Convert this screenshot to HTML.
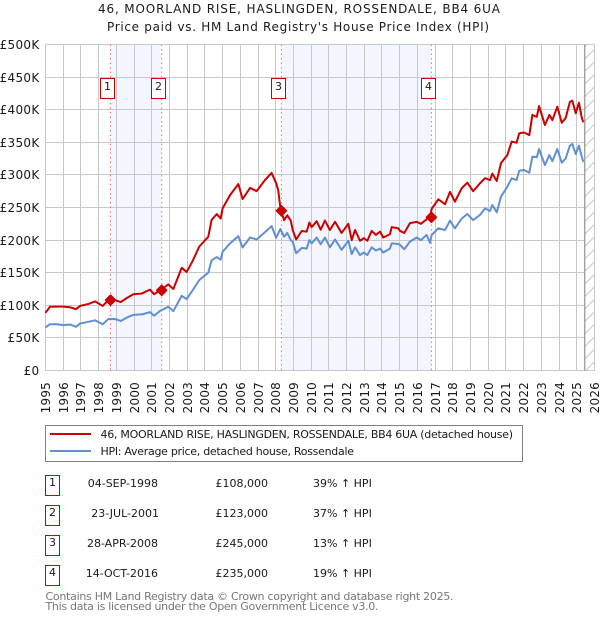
<!DOCTYPE html>
<html lang="en">
<head>
<meta charset="utf-8">
<title>46, Moorland Rise price chart</title>
<style>
html,body{margin:0;padding:0;background:#fff;width:600px;height:620px;overflow:hidden}
svg{display:block}
text{font-family:"DejaVu Sans","Liberation Sans",sans-serif;fill:#1a1a1a}
</style>
</head>
<body>
<svg id="chart" xmlns="http://www.w3.org/2000/svg" width="600" height="620" viewBox="0 0 600 620">
  <rect x="0" y="0" width="600" height="620" fill="#ffffff"/>
  <text x="299" y="13" font-size="12" text-anchor="middle" textLength="402" lengthAdjust="spacing">46, MOORLAND RISE, HASLINGDEN, ROSSENDALE, BB4 6UA</text>
  <text x="298" y="31" font-size="12" text-anchor="middle" textLength="382" lengthAdjust="spacing">Price paid vs. HM Land Registry's House Price Index (HPI)</text>
  <g id="bands"></g>
  <g id="grid"></g>
  <g id="hatch"></g>
  <g id="guides"></g>
  <g id="ylabels"></g>
  <g id="xlabels"></g>
  <g id="series"></g>
  <g id="markers"></g>
  <g id="flags"></g>

  <g>
    <rect x="45.5" y="425.5" width="477" height="36" fill="#ffffff" stroke="#808080" stroke-width="1"/>
    <line x1="50" x2="91" y1="434" y2="434" stroke="#cc0000" stroke-width="2"/>
    <text x="100.5" y="438" font-size="11" textLength="412.5" lengthAdjust="spacing">46, MOORLAND RISE, HASLINGDEN, ROSSENDALE, BB4 6UA (detached house)</text>
    <line x1="50" x2="91" y1="451" y2="451" stroke="#6090d0" stroke-width="2"/>
    <text x="100.5" y="455" font-size="11" textLength="253.5" lengthAdjust="spacing">HPI: Average price, detached house, Rossendale</text>
  </g>

  <g>
    <g>
      <rect x="45.5" y="475.5" width="14" height="20" fill="#fff" stroke="#cc0000"/>
      <text x="52.5" y="486" font-size="11" text-anchor="middle">1</text>
      <text x="158" y="487" font-size="11" text-anchor="end">04-SEP-1998</text>
      <text x="215.5" y="487" font-size="11">£108,000</text>
      <text x="313" y="487" font-size="11">39% ↑ HPI</text>
    </g>
    <g>
      <rect x="45.5" y="505.5" width="14" height="20" fill="#fff" stroke="#cc0000"/>
      <text x="52.5" y="516" font-size="11" text-anchor="middle">2</text>
      <text x="159" y="517" font-size="11" text-anchor="end">23-JUL-2001</text>
      <text x="215.5" y="517" font-size="11">£123,000</text>
      <text x="313" y="517" font-size="11">37% ↑ HPI</text>
    </g>
    <g>
      <rect x="45.5" y="535.5" width="14" height="20" fill="#fff" stroke="#cc0000"/>
      <text x="52.5" y="546" font-size="11" text-anchor="middle">3</text>
      <text x="158" y="547" font-size="11" text-anchor="end">28-APR-2008</text>
      <text x="215.5" y="547" font-size="11">£245,000</text>
      <text x="313" y="547" font-size="11">13% ↑ HPI</text>
    </g>
    <g>
      <rect x="45.5" y="565.5" width="14" height="20" fill="#fff" stroke="#cc0000"/>
      <text x="52.5" y="576" font-size="11" text-anchor="middle">4</text>
      <text x="158" y="577" font-size="11" text-anchor="end">14-OCT-2016</text>
      <text x="215.5" y="577" font-size="11">£235,000</text>
      <text x="313" y="577" font-size="11">19% ↑ HPI</text>
    </g>
  </g>

  <text x="45.5" y="600" font-size="11" textLength="408" lengthAdjust="spacing" style="fill:#777777">Contains HM Land Registry data © Crown copyright and database right 2025.</text>
  <text x="45.5" y="610" font-size="11" textLength="333" lengthAdjust="spacing" style="fill:#777777">This data is licensed under the Open Government Licence v3.0.</text>
</svg>
<script>
const yearTicks = [1995,1996,1997,1998,1999,2000,2001,2002,2003,2004,2005,2006,2007,2008,2009,2010,2011,2012,2013,2014,2015,2016,2017,2018,2019,2020,2021,2022,2023,2024,2025,2026];
const valueTicks = [0,50,100,150,200,250,300,350,400,450,500];
const valueTickLabels = ['£0','£50K','£100K','£150K','£200K','£250K','£300K','£350K','£400K','£450K','£500K'];

const dates = [
1995.00,1995.25,1995.63,1996.00,1996.38,1996.72,1996.95,1997.42,1997.80,1998.23,
1998.55,1998.92,1999.25,1999.58,1999.96,2000.43,2000.90,2001.13,2001.48,2001.93,
2002.22,2002.69,2002.97,2003.31,2003.68,2004.19,2004.38,2004.67,2004.89,2005.00,
2005.42,2005.89,2006.13,2006.55,2006.92,2007.39,2007.77,2008.02,2008.14,2008.26,
2008.47,2008.65,2008.85,2008.96,2009.15,2009.47,2009.75,2009.90,2010.03,2010.31,
2010.54,2010.78,2011.06,2011.35,2011.72,2012.10,2012.29,2012.48,2012.76,2012.98,
2013.17,2013.42,2013.66,2013.89,2014.07,2014.45,2014.55,2014.92,2015.02,2015.26,
2015.58,2015.96,2016.20,2016.52,2016.71,2016.81,2017.18,2017.56,2017.84,2018.12,
2018.50,2018.82,2019.15,2019.53,2019.82,2020.10,2020.23,2020.48,2020.72,2021.08,
2021.32,2021.60,2021.75,2022.02,2022.32,2022.49,2022.74,2022.87,2023.20,2023.45,
2023.62,2023.90,2024.15,2024.37,2024.61,2024.75,2024.94,2025.12,2025.28,2025.37];

const priceSeries = [
88.5,97.7,98,98,97,94,99,102,106,99,
108,108,105,111,117,118,124,117,123,132,
125,157.5,151,168,190,205,231,240,233,248.6,
269,286,263,280,275,292,303,287.5,276.7,250,
230.6,238,230,215.5,201,214,213,227,220,229,
216,230,215.5,228,211,225,200,215.5,199,203,
199,214,208,213,204,209,220,218,214,211,
226,228,225,232,236,248,262.5,255,274,259,
279.5,288,275,287,295,292,302,290.6,318,330.5,
351,349.4,363.8,365,361,392,389,405.6,376.5,392,
384,404.6,380,387,412,413.8,394.5,410.7,388,380.6];

const hpiSeries = [
66,71,71,69.6,70.6,67,72,74.7,77,71,
79,79,76,81,85.4,86,89.5,84,91.6,97.7,
91,114.6,109.5,123,138.6,150,169,174,170,182,
195,206,188.7,204,201,212,221.5,203.6,210,217,
205,211,200,197.6,179.8,188,187,200,195,204,
193.6,204,189,201,185,199,178.6,189,177,181,
177,189,184,187,181,187,195,194,192.5,186,
197.6,204,200,208,196,208,218,215.5,229.8,218,
233,240,230.8,238.5,248.7,244.6,253.8,242.6,266.6,282,
294.8,292,306.4,307.5,303.4,328,327,339.7,315,330.5,
321,339.7,318.7,325,344.8,347.4,332,344.8,328,320];

const saleNumbers = ['1','2','3','4'];
const saleDates = [1998.67,2001.56,2008.32,2016.79];
const salePrices = [108,123,245,235];
const dataEnd = 2025.45;

const SVGNS = 'http://www.w3.org/2000/svg';
const PL = 45.5, PR = 594.5, PT = 44.5, PB = 370.5;
function xAxis(year){ return PL + (year - 1995) * (PR - PL) / 31; }
function yAxis(val){ return PB - val * (PB - PT) / 500; }
function make(tag, parent, attrs){
  const el = document.createElementNS(SVGNS, tag);
  for (const k in attrs) el.setAttribute(k, attrs[k]);
  document.getElementById(parent).appendChild(el);
  return el;
}
function snap(v){ return Math.round(v - 0.5) + 0.5; }

/* shaded bands between sale pairs */
for (let i = 0; i + 1 < saleDates.length; i += 2) {
  const band = make('rect', 'bands', {x: xAxis(saleDates[i]), y: PT, width: xAxis(saleDates[i+1]) - xAxis(saleDates[i]), height: PB - PT, fill: '#f3f6fe'});
  
  
}

/* grid and tick labels */
yearTicks.forEach(function(year){
  const gx = snap(xAxis(year));
  const line = make('line', 'grid', {x1: gx, x2: gx, y1: PT, y2: PB, stroke: '#c8c8c8', 'stroke-width': 1});
  
  
  const lab = make('text', 'xlabels', {'font-size': 12, 'text-anchor': 'end', 'letter-spacing': '0.2', transform: 'translate(' + (gx + 4.5) + ',382) rotate(-90)'});
  lab.textContent = String(year);
  
  
});
valueTicks.forEach(function(val, i){
  const gy = snap(yAxis(val));
  const line = make('line', 'grid', {x1: PL, x2: PR, y1: gy, y2: gy, stroke: '#c8c8c8', 'stroke-width': 1});
  
  
  const lab = make('text', 'ylabels', {x: 39.5, y: gy + 4.5, 'font-size': 12, 'text-anchor': 'end', 'letter-spacing': '0.3'});
  lab.textContent = valueTickLabels[i];
  
  
});

/* future hatch beyond last data point */
const endX = xAxis(dataEnd);
const hatchClip = make('clipPath', 'hatch', {id: 'hatch-clip'});
const hatchRect = document.createElementNS(SVGNS, 'rect');
hatchRect.setAttribute('x', endX);
hatchRect.setAttribute('y', PT);
hatchRect.setAttribute('width', PR - endX);
hatchRect.setAttribute('height', PB - PT);
hatchClip.appendChild(hatchRect);
const hatchBg = make('rect', 'hatch', {x: endX, y: PT, width: PR - endX, height: PB - PT, fill: '#ffffff'});


for (let h = PT + 2; h < PB + 14; h += 12.5) {
  const hl = make('line', 'hatch', {x1: endX, y1: h, x2: PR, y2: h - (PR - endX), stroke: '#c8c8c8', 'stroke-width': 1, 'clip-path': 'url(#hatch-clip)'});
  
  
}
const hatchEdge = make('line', 'hatch', {x1: snap(PR), x2: snap(PR), y1: PT, y2: PB, stroke: '#c8c8c8', 'stroke-width': 1});


const hatchBottom = make('line', 'hatch', {x1: endX, x2: PR, y1: PB, y2: PB, stroke: '#c8c8c8', 'stroke-width': 1});


const hatchTop = make('line', 'hatch', {x1: endX, x2: PR, y1: PT, y2: PT, stroke: '#c8c8c8', 'stroke-width': 1});


const endLine = make('line', 'hatch', {x1: endX, x2: endX, y1: PT, y2: PB, stroke: '#909090', 'stroke-width': 1.2});



/* sale guide lines */
saleDates.forEach(function(d){
  const g = make('line', 'guides', {x1: xAxis(d), x2: xAxis(d), y1: PT, y2: PB, stroke: '#ff7070', 'stroke-width': 1, 'stroke-dasharray': '1.5 3'});
  
  
});

/* series */
function pathFrom(values){
  return values.map(function(v, i){
    return (i ? 'L' : 'M') + xAxis(dates[i]).toFixed(2) + ' ' + yAxis(v).toFixed(2);
  }).join(' ');
}
const hpiLine = make('path', 'series', {d: pathFrom(hpiSeries), fill: 'none', stroke: '#6090d0', 'stroke-width': 2, 'stroke-linejoin': 'round'});


const priceLine = make('path', 'series', {d: pathFrom(priceSeries), fill: 'none', stroke: '#cc0000', 'stroke-width': 2, 'stroke-linejoin': 'round'});



/* sale markers and flags */
saleDates.forEach(function(d, i){
  const mx = xAxis(d), my = yAxis(salePrices[i]), r = 4.8;
  const pts = (mx - r) + ',' + my + ' ' + mx + ',' + (my - r) + ' ' + (mx + r) + ',' + my + ' ' + mx + ',' + (my + r);
  const m = make('polygon', 'markers', {points: pts, fill: '#cc0000', stroke: '#cc0000', 'stroke-width': 1.8, 'stroke-linejoin': 'round'});
  
  
  const fx = Math.round(mx - 10.5) + 0.5;
  const box = make('rect', 'flags', {x: fx, y: 78.5, width: 14, height: 20, fill: '#ffffff', stroke: '#cc0000', 'stroke-width': 1});
  
  
  const t = make('text', 'flags', {x: fx + 7, y: 90, 'font-size': 11, 'text-anchor': 'middle'});
  t.textContent = saleNumbers[i];
  
  
});
</script>
</body>
</html>
